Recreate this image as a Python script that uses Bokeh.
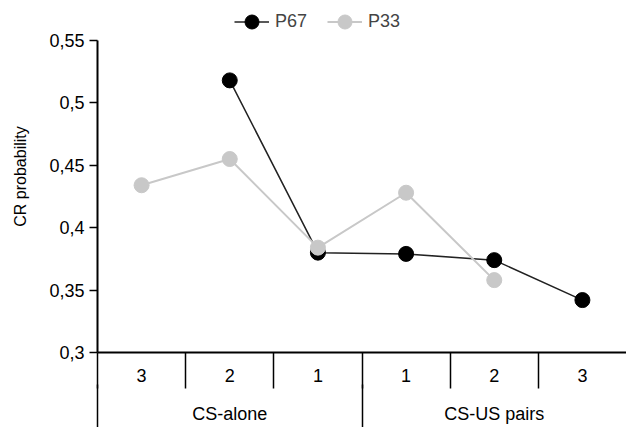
import math
from bokeh.plotting import figure
from bokeh.models import (Range1d, LinearAxis, FixedTicker, CustomJSTickFormatter,
                          Legend, LegendItem)
from bokeh.embed import file_html
from bokeh.resources import INLINE

# ---- data ----
categories = ["3", "2", "1", "1", "2", "3"]
groups = ["CS-alone", "CS-US pairs"]
group_sizes = [3, 3]
p67 = [float("nan"), 0.518, 0.380, 0.379, 0.374, 0.342]
p33 = [0.434, 0.455, 0.384, 0.428, 0.358, float("nan")]
y_ticks = [0.3, 0.35, 0.4, 0.45, 0.5, 0.55]

FONT = "Liberation Sans"
FS = "18px"
x = list(range(1, len(categories) + 1))

# frame extends above 0.55 to leave room for the legend; the y axis is bounded
p = figure(width=626, height=427, output_backend="svg", toolbar_location=None,
           x_range=Range1d(0.5, len(categories) + 0.5), y_range=Range1d(0.3, 0.582),
           x_axis_location=None, min_border_left=97, min_border_right=0,
           min_border_top=0, min_border_bottom=75)
p.outline_line_color = None
p.grid.visible = False

# y axis
ya = p.yaxis[0]
ya.bounds = (y_ticks[0], y_ticks[-1])
ya.ticker = FixedTicker(ticks=y_ticks)
ya.formatter = CustomJSTickFormatter(code="return tick.toFixed(2).replace(/0$/, '').replace('.', ',');")
ya.major_tick_out = 8
ya.major_tick_in = 0
ya.minor_tick_out = 0
ya.minor_tick_in = 0
ya.axis_line_color = "black"
ya.axis_line_width = 2
ya.major_tick_line_width = 1.5
ya.major_label_text_font = FONT
ya.major_label_text_font_size = FS
ya.major_label_text_color = "black"
ya.major_label_standoff = 5
ya.axis_label = "CR probability"
ya.axis_label_text_font = FONT
ya.axis_label_text_font_size = "16px"
ya.axis_label_text_font_style = "normal"
ya.axis_label_text_color = "black"
ya.axis_label_standoff = 17

# category axis (row 1)
bounds = [i + 0.5 for i in range(len(categories))]
ax1 = LinearAxis(ticker=FixedTicker(ticks=x, minor_ticks=bounds),
                 formatter=CustomJSTickFormatter(args=dict(labels=categories),
                                                 code="return labels[Math.round(tick) - 1];"))
ax1.major_tick_out = 0
ax1.major_tick_in = 0
ax1.minor_tick_out = 0
ax1.minor_tick_in = -36
ax1.minor_tick_line_color = "black"
ax1.minor_tick_line_width = 1.5
ax1.axis_line_color = "black"
ax1.axis_line_width = 2
ax1.major_label_standoff = 16
ax1.major_label_text_font = FONT
ax1.major_label_text_font_size = FS
ax1.major_label_text_color = "black"
p.add_layout(ax1, "below")

# group axis (row 2)
centers = []
starts = []
s = 0.5
for n in group_sizes:
    starts.append(s)
    centers.append(s + n / 2)
    s += n
ax2 = LinearAxis(ticker=FixedTicker(ticks=centers, minor_ticks=starts),
                 formatter=CustomJSTickFormatter(args=dict(labels=groups),
                                                 code="return labels[index];"))
ax2.major_tick_out = 0
ax2.major_tick_in = 0
ax2.minor_tick_out = 0
ax2.minor_tick_in = -45
ax2.minor_tick_line_color = "black"
ax2.minor_tick_line_width = 1.5
ax2.axis_line_color = None
ax2.major_label_standoff = 19
ax2.major_label_text_font = FONT
ax2.major_label_text_font_size = FS
ax2.major_label_text_color = "black"
p.add_layout(ax2, "below")

# series
l67 = p.line(x, p67, line_color="#222222", line_width=1.5)
c67 = p.scatter(x, p67, size=15, fill_color="black", line_color="black")
l33 = p.line(x, p33, line_color="#c8c8c8", line_width=2)
c33 = p.scatter(x, p33, size=15, fill_color="#c8c8c8", line_color="#c8c8c8")

legend = Legend(items=[LegendItem(label="P67", renderers=[l67, c67]),
                       LegendItem(label="P33", renderers=[l33, c33])],
                orientation="horizontal", location=(137, 313),
                border_line_color=None, background_fill_alpha=0,
                label_text_font=FONT, label_text_font_size=FS,
                glyph_width=35, glyph_height=35, label_standoff=6, spacing=20,
                padding=2, margin=0)
p.add_layout(legend)

open("out.html", "w").write(file_html(p, INLINE))
